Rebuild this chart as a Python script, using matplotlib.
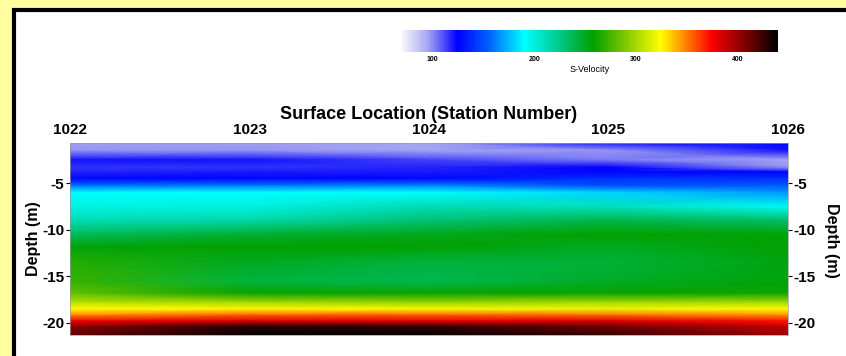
import matplotlib.pyplot as plt
import matplotlib.patches as patches
from matplotlib.colors import LinearSegmentedColormap
import numpy as np

plt.rcParams['font.family'] = ['Liberation Sans', 'DejaVu Sans']
plt.rcParams['axes.unicode_minus'] = False

# station numbers along the line and depth samples (m, positive down)
stations = [1022, 1023, 1024, 1025, 1026]
depths = [0.7, 1.5, 2.5, 3.3, 3.8, 4.5, 5.3, 6.0, 7.5, 9.0, 10.5,
          11.8, 13.5, 15.5, 16.8, 17.8, 18.5, 19.2, 19.8, 20.4, 21.3]

vs_1022 = [97, 98, 122, 115, 118, 126, 160, 190, 198, 212, 235,
           256, 268, 272, 282, 305, 325, 350, 378, 405, 415]
vs_1023 = [97, 98, 122, 116, 120, 126, 162, 190, 200, 215, 245,
           258, 250, 242, 260, 300, 326, 358, 385, 430, 438]
vs_1024 = [95, 96, 112, 118, 120, 126, 165, 190, 212, 230, 252,
           258, 242, 238, 260, 296, 322, 358, 382, 428, 438]
vs_1025 = [120, 98, 102, 124, 126, 140, 150, 180, 210, 240, 258,
           250, 244, 248, 260, 300, 320, 355, 385, 412, 425]
vs_1026 = [125, 122, 95, 98, 125, 140, 155, 168, 194, 232, 256,
           258, 254, 255, 262, 300, 325, 348, 372, 390, 400]

cbar_ticks = [100, 200, 300, 400]
vmin, vmax = 70, 440

# colour scale: white -> blue -> cyan -> green -> yellow -> red -> black
stops = [(70, '#f6f6ff'), (95, '#a4a4f2'), (124, '#0000ff'), (155, '#0060ff'),
         (190, '#00ffff'), (225, '#00c888'), (258, '#00a000'), (290, '#80c800'),
         (325, '#ffff00'), (350, '#ff8000'), (375, '#ff0000'), (408, '#800000'),
         (440, '#000000')]
cmap = LinearSegmentedColormap.from_list(
    'svel', [((v - vmin) / (vmax - vmin), c) for v, c in stops])

V = np.array([vs_1022, vs_1023, vs_1024, vs_1025, vs_1026]).T
X, Z = np.meshgrid(stations, -np.array(depths))

fig = plt.figure(figsize=(8.46, 3.56), dpi=100)
fig.patch.set_facecolor('#ffffa0')

# white panel with black frame (runs off the right/bottom edge)
panel = patches.Rectangle((14 / 846, -0.02), 1.0, 1 - 9.5 / 356 + 0.02,
                          transform=fig.transFigure, facecolor='white',
                          edgecolor='black', linewidth=3, zorder=-10)
fig.add_artist(panel)

ax = fig.add_axes([70 / 846, 1 - 335 / 356, 718 / 846, 192 / 356])
mesh = ax.pcolormesh(X, Z, V, cmap=cmap, vmin=vmin, vmax=vmax, shading='gouraud')
ax.set_xlim(1022, 1026)
ax.set_ylim(-21.3, -0.7)
ax.set_xticks(stations)
ax.set_yticks([-5, -10, -15, -20])
ax.xaxis.tick_top()
ax.xaxis.set_label_position('top')
ax.tick_params(axis='x', length=0, pad=4, labelsize=11)
ax.tick_params(axis='y', length=3, pad=1, labelsize=11, left=True, right=True,
               labelleft=True, labelright=True)
for lab in ax.get_xticklabels():
    lab.set_fontweight('bold')
for t in ax.yaxis.get_major_ticks():
    t.label1.set_fontweight('bold')
    t.label2.set_fontweight('bold')
for s in ax.spines.values():
    s.set_linewidth(0.5)
    s.set_color('#999999')

ax.set_xlabel('Surface Location (Station Number)', fontsize=13, fontweight='bold', labelpad=3)
ax.set_ylabel('Depth (m)', fontsize=11.5, fontweight='bold', labelpad=1)
fig.text(831 / 846, 1 - 240 / 356, 'Depth (m)', rotation=270, fontsize=11.5,
         fontweight='bold', ha='center', va='center')

# colour bar
cax = fig.add_axes([402 / 846, 1 - 52 / 356, 376 / 846, 22 / 356])
cb = fig.colorbar(mesh, cax=cax, orientation='horizontal', ticks=cbar_ticks)
cb.outline.set_visible(False)
cax.tick_params(length=0, labelsize=5, pad=3)
for lab in cax.get_xticklabels():
    lab.set_fontweight('bold')
cb.set_label('S-Velocity', fontsize=6.5, labelpad=1)

fig.savefig('out.png', dpi=100, facecolor=fig.get_facecolor())
